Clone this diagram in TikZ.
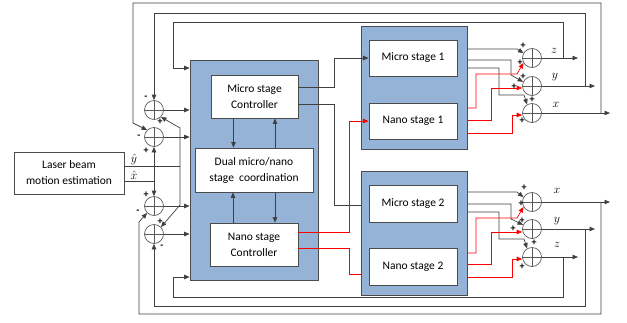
\documentclass[tikz,border=0pt]{standalone}
\usepackage{fontspec}
\setmainfont{Carlito}
\usepackage{tikz}
\usetikzlibrary{arrows.meta}

\definecolor{blockblue}{HTML}{95B3D7}

\tikzset{
    blk/.style={draw=black!70, fill=blockblue, line width=0.8pt},
    box/.style={draw=black!70, fill=white, line width=0.8pt, align=center,
        inner sep=0pt, font=\fontsize{11.5}{16}\selectfont},
    sumc/.style={circle, draw=black!65, line width=0.7pt, minimum size=19pt, inner sep=0pt,
        path picture={\draw[black!65, line width=0.7pt]
            (path picture bounding box.north) -- (path picture bounding box.south)
            (path picture bounding box.west) -- (path picture bounding box.east);}},
    sig/.style={draw=black!75, line width=0.7pt},
    rsig/.style={draw=red, line width=0.7pt},
    arr/.style={-{Triangle[length=5.5pt,width=4.5pt]}},
    sgn/.style={inner sep=0pt, font=\fontsize{10}{10}\selectfont\bfseries},
    lbl/.style={inner sep=0pt, font=\fontsize{13}{13}\selectfont},
}

\begin{document}
\begin{tikzpicture}[x=1pt, y=-1pt]
    \useasboundingbox (0,0) rectangle (627,322);

    
    \node[box, minimum width=110pt, minimum height=42pt] (lb) at (69,173) {Laser beam\\motion estimation};

    \node[blk, minimum width=128pt, minimum height=220pt] (mb) at (254,170) {};
    \node[box, minimum width=87pt, minimum height=43pt] (mc) at (254.5,96.5) {Micro stage\\Controller};
    \node[box, minimum width=118pt, minimum height=44pt] (dc) at (254,170) {Dual micro/nano\\stage\ \ coordination};
    \node[box, minimum width=88pt, minimum height=43pt] (nc) at (254,244.5) {Nano stage\\Controller};

    \node[blk, minimum width=106pt, minimum height=123pt] (b1) at (414,87.5) {};
    \node[box, minimum width=88pt, minimum height=36pt] (ms1) at (413,58) {Micro stage 1};
    \node[box, minimum width=88pt, minimum height=36pt] (ns1) at (413,121) {Nano stage 1};

    \node[blk, minimum width=106pt, minimum height=124pt] (b2) at (414,233) {};
    \node[box, minimum width=88pt, minimum height=37pt] (ms2) at (413,203.5) {Micro stage 2};
    \node[box, minimum width=88pt, minimum height=37pt] (ns2) at (413,266.5) {Nano stage 2};

    
    \node[sumc] (s1) at (154,110) {};
    \node[sumc] (s2) at (154,137) {};
    \node[sumc] (s3) at (154,206) {};
    \node[sumc] (s4) at (154,234) {};

    \node[sumc] (z1) at (532,58) {};
    \node[sumc] (y1) at (532,86) {};
    \node[sumc] (x1) at (532,113) {};
    \node[sumc] (x2) at (532,202) {};
    \node[sumc] (y2) at (532,229) {};
    \node[sumc] (z2) at (532,257) {};

    
    \draw[sig] (lb.east |- 0,166) -- (180,166);
    \draw[sig, arr] (180,166) -- (180,128) -- (s1.south east);
    \draw[sig, arr] (180,166) -- (180,205) -- (s4.north east);
    \draw[sig] (lb.east |- 0,181) -- (154,181);
    \draw[sig, arr] (154,181) -- (s2.south);
    \draw[sig, arr] (154,181) -- (s3.north);
    \node[lbl] (yh) at (134,159) {$\hat{y}$};
    \node[lbl] (xh) at (134,175) {$\hat{x}$};

    \foreach \s in {s1,s2,s3,s4} {
        \draw[sig, arr] (\s.east) -- (mb.west |- \s.east);
    }

    
    \draw[sig, arr] (x1.east) -- (610,113);
    \draw[sig, arr] (601,113) -- (601,3) -- (133,3) -- (133,123) -- (s2.north west);
    \draw[sig, arr] (y1.east) -- (595,86);
    \draw[sig, arr] (585,86) -- (585,13) -- (154,13) -- (s1.north);
    \draw[sig, arr] (z1.east) -- (578,58);
    \draw[sig, arr] (563,58) -- (563,22) -- (173,22) -- (173,68) -- (mb.west |- 0,68);

    \draw[sig, arr] (x2.east) -- (610,202);
    \draw[sig, arr] (601,202) -- (601,314) -- (139,314) -- (139,222) -- (s3.south west);
    \draw[sig, arr] (y2.east) -- (595,229);
    \draw[sig, arr] (585,229) -- (585,306) -- (154,306) -- (s4.south);
    \draw[sig, arr] (z2.east) -- (578,257);
    \draw[sig, arr] (563,257) -- (563,297) -- (173,297) -- (173,277) -- (mb.west |- 0,277);

    
    \draw[sig, arr] ([xshift=-21pt]mc.south) -- ([xshift=-21pt]mc.south |- dc.north);
    \draw[sig, arr] ([xshift=21pt]dc.north) -- ([xshift=21pt]dc.north |- mc.south);
    \draw[sig, arr] ([xshift=21pt]dc.south) -- ([xshift=21pt]dc.south |- nc.north);
    \draw[sig, arr] ([xshift=-21pt]nc.north) -- ([xshift=-21pt]nc.north |- dc.south);

    
    \draw[sig, arr] (mc.east |- 0,87) -- (334,87) -- (334,58) -- (ms1.west);
    \draw[sig] (mc.east |- 0,104) -- (334,104) -- (334,205) -- (b2.west |- 0,205);
    \draw[rsig, arr] (nc.east |- 0,232) -- (349,232) -- (349,121) -- (ns1.west);
    \draw[rsig] (nc.east |- 0,248) -- (349,248) -- (349,274) -- (b2.west |- 0,274);

    
    \draw[sig, arr] (b1.east |- 0,49) -- (517,49) -- (z1.150);
    \draw[sig, arr] (b1.east |- 0,60) -- (511,60) -- (511,75) -- (y1.155);
    \draw[sig, arr] (b1.east |- 0,68) -- (499,68) -- (499,95) -- (524,95) -- (x1.120);
    \draw[rsig, arr] (b1.east |- 0,108) -- (476,108) -- (476,74) -- (517,74) -- (z1.210);
    \draw[rsig, arr] (b1.east |- 0,120) -- (491,120) -- (491,88) -- (y1.west |- 0,88);
    \draw[rsig, arr] (b1.east |- 0,133) -- (512,133) -- (512,115) -- (x1.west |- 0,115);

    \draw[sig, arr] (b2.east |- 0,192) -- (517,192) -- (x2.150);
    \draw[sig, arr] (b2.east |- 0,204) -- (511,204) -- (511,219) -- (y2.155);
    \draw[sig, arr] (b2.east |- 0,212) -- (499,212) -- (499,239) -- (524,239) -- (z2.120);
    \draw[rsig, arr] (b2.east |- 0,253) -- (476,253) -- (476,218) -- (517,218) -- (x2.210);
    \draw[rsig, arr] (b2.east |- 0,264) -- (491,264) -- (491,232) -- (y2.west |- 0,232);
    \draw[rsig, arr] (b2.east |- 0,277) -- (512,277) -- (512,259) -- (z2.west |- 0,259);

    
    \foreach \n/\t/\px/\py in {lz1/z/554/51, ly1/y/555/77, lx1/x/556/105,
                               lx2/x/557/191, ly2/y/557/221, lz2/z/557/245} {
        \node[lbl] (\n) at (\px,\py) {$\t$};
    }

    
    \foreach \px/\py [count=\i] in {523/46, 520/63, 523/77, 514/87, 532/100, 522/121,
                                    524/188, 521/204, 522/221, 513/229, 534/243, 522/267,
                                    160/122, 146/151, 146/195, 160/222} {
        \node[sgn] (p\i) at (\px,\py) {+};
    }
    \foreach \px/\py [count=\i] in {146/98, 139/137, 138/212, 162/247} {
        \node[sgn] (m\i) at (\px,\py) {-};
    }

\end{tikzpicture}
\end{document}
